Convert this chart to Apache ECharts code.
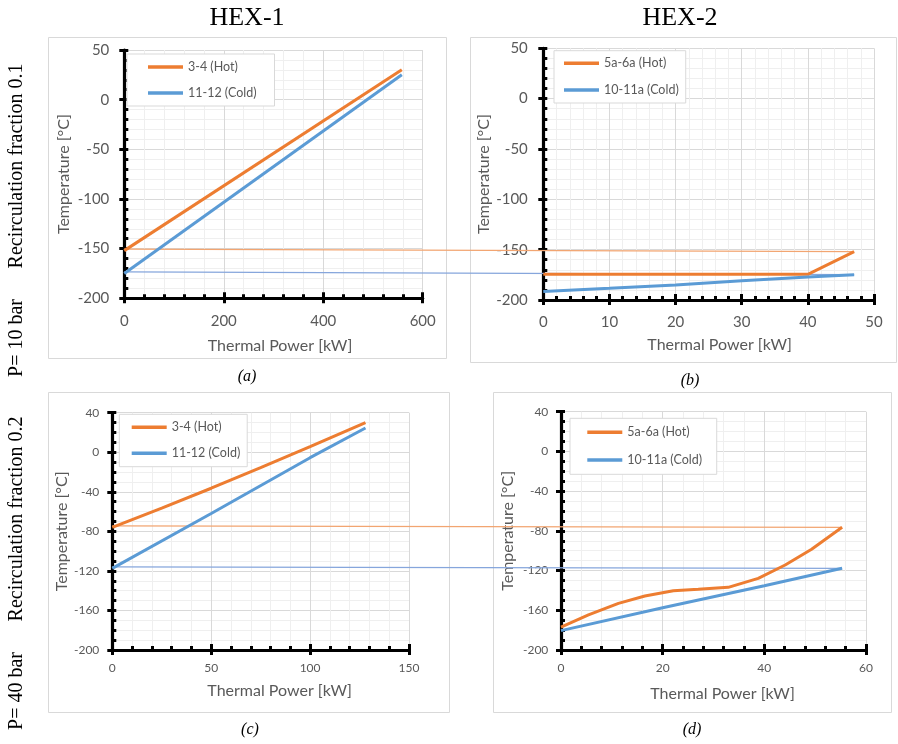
<!DOCTYPE html>
<html>
<head>
<meta charset="utf-8">
<script src="https://cdn.jsdelivr.net/npm/echarts@6/dist/echarts.min.js"></script>
<style>
  html, body { margin: 0; padding: 0; background: #fff; }
  #c { width: 898px; height: 744px; }
</style>
</head>
<body>
<div id="c"></div>
<script>
// Temperature vs thermal power profiles, [kW, °C]
// P = 10 bar, recirculation fraction 0.1
const hex1LowHot  = [[0, -152], [558, 30]];
const hex1LowCold = [[0, -175], [558, 25]];
const hex2LowHot  = [[0, -174.5], [40, -174.5], [47, -152]];
const hex2LowCold = [[0, -191.5], [10, -188.4], [20, -185], [30, -180.8], [40, -177.2], [47, -174.8]];
// P = 40 bar, recirculation fraction 0.2
const hex1HighHot  = [[0, -76], [25, -56.5], [50, -36.4], [75, -15.5], [100, 5.6], [128, 30]];
const hex1HighCold = [[0, -117.5], [50, -62], [100, -5.5], [128, 24.5]];
const hex2HighHot  = [[0, -177], [5.4, -164.7], [11.3, -153], [16.5, -145.6], [22.1, -140.3], [27, -138.9],
                      [32.9, -136.9], [38.8, -127.8], [44.1, -114.4], [49.3, -98.6], [55.3, -76.4]];
const hex2HighCold = [[0, -180.5], [20, -157.5], [40, -135.3], [55.3, -117.7]];

// stream names
const hex1Names = ['3-4 (Hot)', '11-12 (Cold)'];
const hex2Names = ['5a-6a (Hot)', '10-11a (Cold)'];

// axis ranges [min, max, major interval, minor interval]
const hex1LowPower  = [0, 600, 200, 40];
const hex2LowPower  = [0, 50, 10, 2];
const hex1HighPower = [0, 150, 50, 10];
const hex2HighPower = [0, 60, 20, 4];
const lowTemp  = [-200, 50, 50, 10];
const highTemp = [-200, 40, 40, 10];

const HOT = '#ED7D31', COLD = '#5B9BD5';
const GRAY = '#595959';
const FONT = 'Lato';

const panels = [
  { grid: { left: 124.3, top: 50, width: 298.4, height: 248.3 },
    x: hex1LowPower, y: lowTemp, hot: hex1LowHot, cold: hex1LowCold, names: hex1Names,
    tick: 15, xMargin: 15, yMargin: 15, xGap: 40, yGap: 52, xShift: 13,
    legend: { left: 127, top: 54, padding: [6, 18, 6, 21], gap: 12, textGap: 3 } },
  { grid: { left: 543.3, top: 48.3, width: 330.7, height: 251.7 },
    x: hex2LowPower, y: lowTemp, hot: hex2LowHot, cold: hex2LowCold, names: hex2Names,
    tick: 15, xMargin: 15, yMargin: 15.5, xGap: 37, yGap: 50, xShift: 22,
    legend: { left: 554, top: 50.7, padding: [5.6, 7, 6, 10], gap: 12.7, textGap: 3 } },
  { grid: { left: 112.3, top: 412.7, width: 296.7, height: 237.3 },
    x: hex1HighPower, y: highTemp, hot: hex1HighHot, cold: hex1HighCold, names: hex1Names,
    tick: 12, xMargin: 12, yMargin: 13, xGap: 33, yGap: 41, xShift: 38,
    legend: { left: 119.3, top: 414.3, padding: [6, 7, 6.4, 12.4], gap: 12, textGap: 3.3 } },
  { grid: { left: 561, top: 411.7, width: 305, height: 238.3 },
    x: hex2HighPower, y: highTemp, hot: hex2HighHot, cold: hex2HighCold, names: hex2Names,
    tick: 12, xMargin: 12, yMargin: 12.7, xGap: 35.5, yGap: 45, xShift: 18,
    legend: { left: 570, top: 418.3, padding: [7, 14.7, 7.3, 17.3], gap: 13.7, textGap: 3.3 } }
];

const black = { color: '#000', width: 3 };

function mainAxis(i, r, p, isX) {
  return {
    type: 'value', gridIndex: i, min: r[0], max: r[1], interval: r[2],
    position: isX ? 'bottom' : 'left',
    axisLine: { show: true, onZero: false, lineStyle: { color: '#000', width: 3.2 } },
    axisTick: { show: true, length: 5, lineStyle: black },
    minorTick: { show: false, splitNumber: Math.round(r[2] / r[3]) },
    splitLine: { show: true, lineStyle: { color: '#d9d9d9', width: 1 } },
    minorSplitLine: { show: true, lineStyle: { color: '#efefef', width: 1 } },
    axisLabel: { color: GRAY, fontFamily: FONT, fontSize: p.tick, margin: isX ? p.xMargin : p.yMargin },
    name: isX ? 'Thermal Power [kW]' : 'Temperature [°C]',
    nameLocation: 'middle',
    nameGap: isX ? p.xGap : p.yGap,
    nameTextStyle: { color: GRAY, fontFamily: FONT, fontSize: 16,
                     padding: isX ? [0, 0, 0, p.xShift] : 0 }
  };
}

// companion axis on the same edge that carries the dotted minor ticks on the inner side
function tickAxis(i, r, isX, len) {
  return {
    type: 'value', gridIndex: i, min: r[0], max: r[1], interval: r[3],
    position: isX ? 'bottom' : 'left',
    axisLine: { show: false, onZero: false },
    axisTick: { show: true, inside: true, length: len, lineStyle: black },
    splitLine: { show: false },
    axisLabel: { show: false }
  };
}
// companion axis for the inner half of the major ticks
function majorInner(i, r, isX) {
  return {
    type: 'value', gridIndex: i, min: r[0], max: r[1], interval: r[2],
    position: isX ? 'bottom' : 'left',
    axisLine: { show: false, onZero: false },
    axisTick: { show: true, inside: true, length: isX ? 6 : 4, lineStyle: black },
    splitLine: { show: false },
    axisLabel: { show: false }
  };
}

const grids = [], xAxes = [], yAxes = [], series = [], legends = [];
panels.forEach((p, i) => {
  grids.push(Object.assign({ containLabel: false }, p.grid));
  xAxes.push(mainAxis(i, p.x, p, true));
  yAxes.push(mainAxis(i, p.y, p, false));
});
panels.forEach((p, i) => {
  xAxes.push(tickAxis(i, p.x, true, 4));
  yAxes.push(tickAxis(i, p.y, false, 4));
});
panels.forEach((p, i) => {
  xAxes.push(majorInner(i, p.x, true));
  yAxes.push(majorInner(i, p.y, false));
});
panels.forEach((p, i) => {
  [[p.hot, HOT, p.names[0]], [p.cold, COLD, p.names[1]]].forEach(([data, color, name]) => {
    series.push({
      type: 'line', name, data, xAxisIndex: i, yAxisIndex: i,
      showSymbol: false, symbol: 'none', z: 3,
      lineStyle: { color, width: 3 }, itemStyle: { color }
    });
  });
  legends.push({
    data: p.names, orient: 'vertical', left: p.legend.left, top: p.legend.top,
    padding: p.legend.padding, itemGap: p.legend.gap, itemWidth: 35, itemHeight: 3.5,
    itemTextGap: p.legend.textGap, icon: 'rect',
    borderColor: '#d9d9d9', borderWidth: 1, backgroundColor: '#fff',
    textStyle: { color: GRAY, fontFamily: FONT, fontSize: 12.5, lineHeight: 14 }
  });
});

const serif = 'Liberation Serif';
function label(text, x, y, size, extra) {
  return {
    type: 'text', x, y, silent: true, z: 10,
    rotation: (extra && extra.rotation) || 0,
    style: { text, fontFamily: serif, fontSize: size, fontStyle: (extra && extra.italic) ? 'italic' : 'normal',
             fill: '#000', align: 'center', verticalAlign: 'middle' }
  };
}
function frame(x, y, w, h) {
  return { type: 'rect', silent: true, z: -10,
           shape: { x, y, width: w, height: h },
           style: { fill: 'none', stroke: '#d9d9d9', lineWidth: 1 } };
}

const up = { rotation: Math.PI / 2 };
const it = { italic: true };
const texts = [
  frame(48.5, 37.5, 398, 321), frame(470.5, 37.5, 426, 325),
  frame(48.5, 392.5, 401, 320), frame(493.5, 392.5, 398, 320),
  label('HEX-1', 247, 18, 26), label('HEX-2', 680, 18, 26),
  label('Recirculation fraction 0.1', 17, 166, 20, up),
  label('P= 10 bar', 17, 338, 20, up),
  label('Recirculation fraction 0.2', 17, 519, 20, up),
  label('P= 40 bar', 17, 691, 20, up),
  label('(a)', 247, 377, 16, it),
  label('(b)', 690, 381, 16, it),
  label('(c)', 250, 730, 16, it),
  label('(d)', 692, 730, 16, it)
];

const chart = echarts.init(document.getElementById('c'));
chart.setOption({
  animation: false,
  backgroundColor: '#fff',
  grid: grids, xAxis: xAxes, yAxis: yAxes, series, legend: legends,
  graphic: { elements: texts }
});

// guide lines linking the inlet states of HEX-1 to the outlet states of HEX-2
const last = a => a[a.length - 1];
const links = [
  [0, hex1LowHot[0], 1, last(hex2LowHot), '#F2A571'],
  [0, hex1LowCold[0], 1, last(hex2LowCold), '#86A6DC'],
  [2, hex1HighHot[0], 3, last(hex2HighHot), '#F2A571'],
  [2, hex1HighCold[0], 3, last(hex2HighCold), '#86A6DC']
];
const linkEls = links.map(([ia, pa, ib, pb, color]) => {
  const a = chart.convertToPixel({ xAxisIndex: ia, yAxisIndex: ia }, pa);
  const b = chart.convertToPixel({ xAxisIndex: ib, yAxisIndex: ib }, pb);
  return { type: 'line', silent: true, z: 1,
           shape: { x1: a[0], y1: a[1] - 1.5, x2: b[0], y2: b[1] },
           style: { stroke: color, lineWidth: 1.2 } };
});
chart.setOption({ graphic: { elements: texts.concat(linkEls) } });
</script>
</body>
</html>
